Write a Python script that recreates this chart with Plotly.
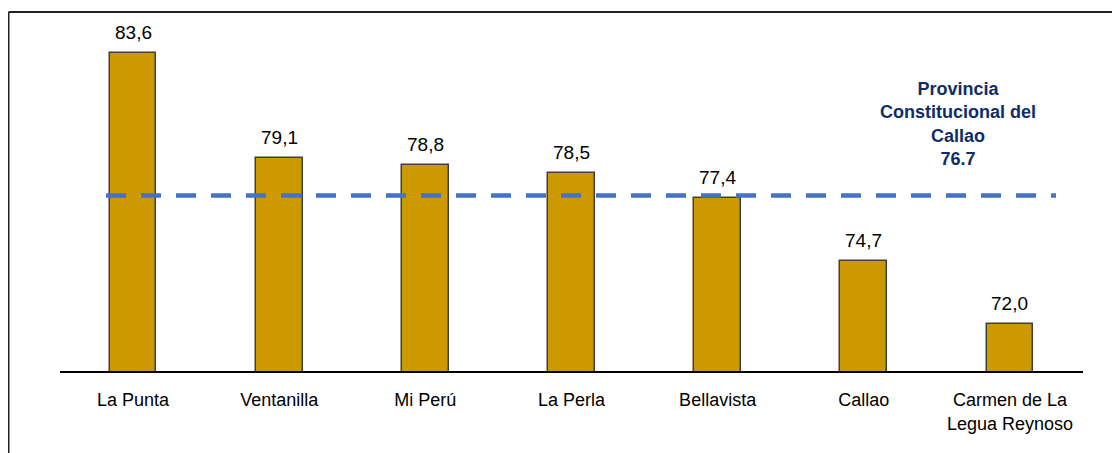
import plotly.graph_objects as go

categories = ["La Punta", "Ventanilla", "Mi Perú", "La Perla", "Bellavista", "Callao",
              "Carmen de La<br>Legua Reynoso"]
values = [83.6, 79.1, 78.8, 78.5, 77.4, 74.7, 72.0]
value_labels = ["83,6", "79,1", "78,8", "78,5", "77,4", "74,7", "72,0"]
provincia_value = 76.7
provincia_label = "Provincia<br>Constitucional del<br>Callao<br>76.7"

FONT = "Liberation Sans, Arial"

W, H = 1120, 453
L, R, T, B = 52, 45, 12, 90
plot_w = W - L - R
plot_h = H - T - B

xs = list(range(len(categories)))

fig = go.Figure()
fig.add_trace(go.Bar(
    x=xs, y=values,
    width=0.32,
    marker=dict(color="#CC9900", line=dict(color="#3F3F3F", width=1.5)),
    showlegend=False, hoverinfo="skip",
))

for x, v, lab in zip(xs, values, value_labels):
    fig.add_annotation(x=x, y=v, text=lab, showarrow=False, xanchor="center",
                       yanchor="bottom", yshift=8,
                       font=dict(family=FONT, size=19, color="#000000"))

# reference line on a secondary axis (drawn slightly higher in the original)
fig.add_trace(go.Scatter(x=[0], y=[provincia_value], yaxis="y2", mode="markers",
                         marker=dict(opacity=0), showlegend=False, hoverinfo="skip"))

yr = [70, 85.03]
shift = 0.82
fig.update_layout(
    width=W, height=H,
    margin=dict(l=L, r=R, t=T, b=B),
    paper_bgcolor="white", plot_bgcolor="white",
    xaxis=dict(
        range=[-0.5, 6.5], tickvals=xs, ticktext=categories,
        showline=True, linecolor="#000000", linewidth=1.5, showgrid=False, zeroline=False,
        ticks="", ticklabelstandoff=12,
        tickfont=dict(family=FONT, size=18, color="#000000"),
    ),
    yaxis=dict(range=yr, visible=False, showgrid=False),
    yaxis2=dict(range=[yr[0] - shift, yr[1] - shift], overlaying="y", visible=False,
                showgrid=False),
    bargap=0,
)

fig.add_shape(type="line", xref="paper", yref="y2",
              x0=(98 - L) / plot_w, x1=(1048 - L) / plot_w,
              y0=provincia_value, y1=provincia_value,
              line=dict(color="#4472C4", width=4.5, dash="20px,15px"))

fig.add_annotation(xref="paper", yref="paper",
                   x=(950 - L) / plot_w, y=(H - B - 116) / plot_h,
                   text="<b>" + provincia_label + "</b>", showarrow=False,
                   align="center", xanchor="center", yanchor="middle",
                   font=dict(family=FONT, size=18, color="#0F2D69"))

# outer frame (top and left edges)
fx = (0.5 - L) / plot_w
fy = (H - B - 4) / plot_h
fig.add_shape(type="line", xref="paper", yref="paper", x0=fx, x1=(W + 5 - L) / plot_w,
              y0=fy, y1=fy, line=dict(color="#222222", width=2))
fig.add_shape(type="line", xref="paper", yref="paper", x0=fx, x1=fx,
              y0=fy, y1=-(B + 5) / plot_h, line=dict(color="#222222", width=2))

fig.write_html("out.html")
